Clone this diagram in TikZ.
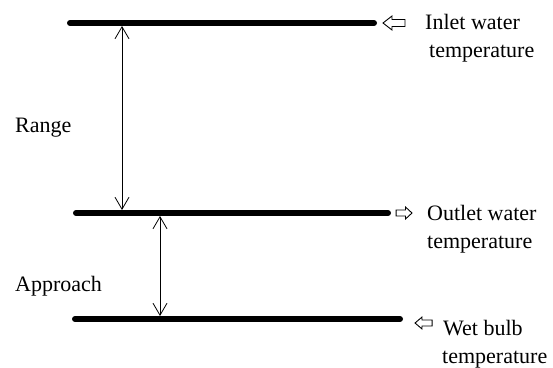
\documentclass[tikz,border=0pt]{standalone}
\usepackage{fontspec}
\setmainfont{Liberation Serif}
\usetikzlibrary{arrows.meta}
\begin{document}
\begin{tikzpicture}[x=1pt,y=-1pt,
  level/.style={line width=6pt,line cap=round},
  dim/.style={line width=0.8pt,{Straight Barb[length=12pt,width=14pt]}-{Straight Barb[length=12pt,width=14pt]}},
  lbl/.style={anchor=base west,inner sep=0pt,font=\fontsize{22}{26}\selectfont},
  hollow/.pic={\draw[line width=0.9pt,miter limit=4] (0,0) -- (9,-7) -- (9,-3.5) -- (22,-3.5) -- (22,3.5) -- (9,3.5) -- (9,7) -- cycle;}]
\useasboundingbox (0,0) rectangle (553,367);
% levels
\coordinate (t1) at (70,23);  \coordinate (t2) at (374,23);
\coordinate (m1) at (76,213); \coordinate (m2) at (388,213);
\coordinate (b1) at (75,319); \coordinate (b2) at (400,319);
\draw[level] (t1) -- (t2);
\draw[level] (m1) -- (m2);
\draw[level] (b1) -- (b2);
% dimension arrows
\coordinate (ra) at (122,26);  \coordinate (rb) at (122,210);
\coordinate (aa) at (160,216); \coordinate (ab) at (160,316);
\draw[dim] (ra) -- (rb);
\draw[dim] (aa) -- (ab);
% hollow arrows
\pic at (383,23) {hollow};
\pic[xscale=-0.72,yscale=0.85] at (412,213) {hollow};
\pic[xscale=0.78,yscale=0.85] at (415,323) {hollow};
% labels
\node[lbl] (in1) at (425,29) {Inlet water};
\node[lbl] (in2) at (429,57) {temperature};
\node[lbl] (out1) at (427,220) {Outlet water};
\node[lbl] (out2) at (427,248) {temperature};
\node[lbl] (wb1) at (443,335) {Wet bulb};
\node[lbl] (wb2) at (442,363) {temperature};
\node[lbl] (rng) at (15,132) {Range};
\node[lbl] (app) at (15,291) {Approach};
\end{tikzpicture}
\end{document}
